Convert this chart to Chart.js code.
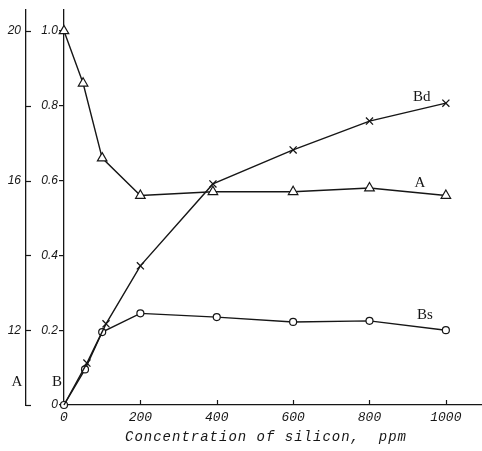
<!DOCTYPE html>
<html>
<head>
<meta charset="utf-8">
<script src="https://cdn.jsdelivr.net/npm/chart.js@4/dist/chart.umd.min.js"></script>
<style>
  html, body { margin: 0; padding: 0; background: #fff; }
  #wrap { width: 482px; height: 451px; }
</style>
</head>
<body>
<div id="wrap"><canvas id="c" width="482" height="451"></canvas></div>
<script>
// Silicon concentration (ppm) for each series
const xA  = [0, 50, 100, 200, 390, 600, 800, 1000];
const xBd = [0, 60, 110, 200, 390, 600, 800, 1000];
const xBs = [0, 55, 100, 200, 400, 600, 800, 1000];

// Series values: A on the outer scale, Bd and Bs on the inner B scale
const valuesA  = [20.0, 18.6, 16.6, 15.6, 15.7, 15.7, 15.8, 15.6];
const valuesBd = [0, 0.112, 0.217, 0.372, 0.591, 0.682, 0.759, 0.807];
const valuesBs = [0, 0.095, 0.195, 0.245, 0.235, 0.222, 0.225, 0.200];

// Tick values and labels
const xTicks = [0, 200, 400, 600, 800, 1000];
const xTickLabels = ['0', '200', '400', '600', '800', '1000'];
const bTicks = [0, 0.2, 0.4, 0.6, 0.8, 1.0];
const bTickLabels = ['0', '0.2', '0.4', '0.6', '0.8', '1.0'];
const aTicks = [10, 12, 14, 16, 18, 20];
const aTickLabels = ['', '12', '', '16', '', '20'];

const xTitle = 'Concentration of silicon,  ppm';
const seriesNames = ['Bd', 'A', 'Bs'];

const ink = '#161616';
const pts = (xs, ys) => xs.map((x, i) => ({ x: x, y: ys[i] }));

// Inward tick marks, axis names and curve names
const decorations = {
  id: 'decorations',
  afterDraw(chart) {
    const ctx = chart.ctx;
    const sx = chart.scales.x, sa = chart.scales.yA, sb = chart.scales.yB;
    ctx.save();
    ctx.strokeStyle = ink;
    ctx.lineWidth = 1.2;
    // outer A axis: ticks pointing right
    aTicks.forEach(v => {
      const y = Math.round(sa.getPixelForValue(v)) + 0.5;
      ctx.beginPath(); ctx.moveTo(sa.right, y); ctx.lineTo(sa.right + 5, y); ctx.stroke();
    });
    // x axis: ticks pointing up
    xTicks.forEach(v => {
      if (v === 0) return;
      const x = Math.round(sx.getPixelForValue(v)) + 0.5;
      ctx.beginPath(); ctx.moveTo(x, sx.top); ctx.lineTo(x, sx.top - 5); ctx.stroke();
    });
    // axis names
    ctx.fillStyle = ink;
    ctx.font = '15px "Liberation Serif"';
    ctx.textAlign = 'center';
    ctx.textBaseline = 'middle';
    const yName = sb.getPixelForValue(0.062);
    ctx.fillText('A', sa.right - 9, yName);
    ctx.fillText('B', sb.right - 7, yName);
    // curve names
    const namePos = [[937, 0.824], [932, 0.594], [945, 0.241]];
    seriesNames.forEach((n, i) => {
      ctx.fillText(n, sx.getPixelForValue(namePos[i][0]), sb.getPixelForValue(namePos[i][1]));
    });
    // x axis title
    ctx.font = 'italic 14px "Liberation Mono"';
    if ('letterSpacing' in ctx) ctx.letterSpacing = '1px';
    ctx.fillText(xTitle, 266, 437);
    ctx.restore();
  }
};

const lineStyle = {
  borderColor: ink,
  borderWidth: 1.4,
  pointBorderColor: ink,
  pointBackgroundColor: '#fff',
  pointBorderWidth: 1.2,
  tension: 0,
  clip: false,
  fill: false
};

new Chart(document.getElementById('c'), {
  type: 'line',
  data: {
    datasets: [
      Object.assign({}, lineStyle, {
        label: 'Bd', data: pts(xBd, valuesBd), yAxisID: 'yB',
        pointStyle: 'crossRot', pointRadius: [0, 5, 5, 5, 5, 5, 5, 5], pointBorderWidth: 1.3
      }),
      Object.assign({}, lineStyle, {
        label: 'A', data: pts(xA, valuesA), yAxisID: 'yA',
        pointStyle: 'triangle', pointRadius: 5.5
      }),
      Object.assign({}, lineStyle, {
        label: 'Bs', data: pts(xBs, valuesBs), yAxisID: 'yB',
        pointStyle: 'circle', pointRadius: 3.5
      })
    ]
  },
  options: {
    responsive: false,
    animation: false,
    layout: { autoPadding: false, padding: { top: 10, right: 1, left: 0, bottom: 0 } },
    plugins: { legend: { display: false }, tooltip: { enabled: false } },
    scales: {
      x: {
        type: 'linear', min: 0, max: 1092,
        afterBuildTicks: s => { s.ticks = xTicks.map(v => ({ value: v })); },
        afterFit: s => { s.height = 46; s.paddingLeft = 0; s.paddingRight = 0; },
        grid: { display: false, drawTicks: false },
        border: { display: true, color: ink, width: 1.3 },
        ticks: {
          color: ink, padding: 5, maxRotation: 0,
          font: { family: 'Liberation Mono', style: 'italic', size: 13 },
          callback: (v, i) => xTickLabels[i]
        }
      },
      yB: {
        type: 'linear', position: 'left', weight: 0, min: 0, max: 1.056,
        afterBuildTicks: s => { s.ticks = bTicks.map(v => ({ value: v })); },
        afterFit: s => { s.width = 38; s.paddingTop = 0; s.paddingBottom = 0; },
        grid: { display: true, drawOnChartArea: false, drawTicks: true, tickLength: 5, color: ink, lineWidth: 1.2 },
        border: { display: true, color: ink, width: 1.3 },
        ticks: {
          color: ink, padding: 1,
          font: { family: 'Liberation Sans', style: 'italic', size: 12 },
          callback: (v, i) => bTickLabels[i]
        }
      },
      yA: {
        type: 'linear', position: 'left', weight: 1, min: 10, max: 20.56,
        afterBuildTicks: s => { s.ticks = aTicks.map(v => ({ value: v })); },
        afterFit: s => { s.width = 26; s.paddingTop = 0; s.paddingBottom = 0; },
        grid: { display: false, drawTicks: false },
        border: { display: true, color: ink, width: 1.3 },
        ticks: {
          color: ink, padding: 5,
          font: { family: 'Liberation Sans', style: 'italic', size: 12 },
          callback: (v, i) => aTickLabels[i]
        }
      }
    }
  },
  plugins: [decorations]
});
</script>
</body>
</html>
